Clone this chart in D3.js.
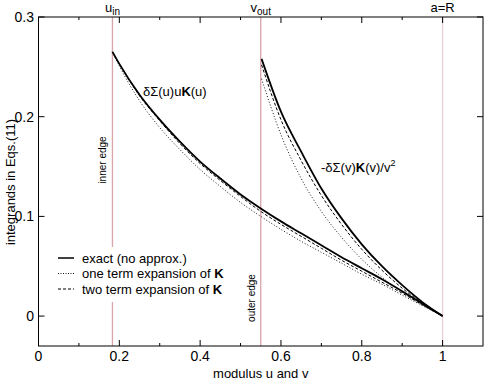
<!DOCTYPE html>
<html>
<head>
<meta charset="utf-8">
<script src="https://cdn.jsdelivr.net/npm/d3@7"></script>
<style>
  body { margin: 0; background: #fff; }
  svg { display: block; font-family: "Liberation Sans", Arial, sans-serif; }
</style>
</head>
<body>
<div id="chart"></div>
<script>
// 内边缘积分 (u)
const uGrid      = [0.183, 0.20, 0.25, 0.30, 0.35, 0.40, 0.45, 0.50, 0.55, 0.60, 0.65, 0.70, 0.75, 0.80, 0.85, 0.90, 0.95, 1.00]
const innerExact = [0.265, 0.253, 0.222, 0.197, 0.175, 0.155, 0.138, 0.122, 0.108, 0.095, 0.083, 0.071, 0.059, 0.048, 0.037, 0.025, 0.0125, 0]
const innerOne   = [0.265, 0.251, 0.216, 0.189, 0.167, 0.147, 0.130, 0.114, 0.100, 0.087, 0.075, 0.064, 0.053, 0.042, 0.032, 0.021, 0.0105, 0]
const innerTwo   = [0.265, 0.253, 0.221, 0.196, 0.173, 0.153, 0.136, 0.120, 0.105, 0.092, 0.080, 0.068, 0.056, 0.045, 0.034, 0.023, 0.0115, 0]
// 外边缘积分 (v)
const vGrid      = [0.552, 0.60, 0.65, 0.70, 0.75, 0.80, 0.85, 0.90, 0.95, 1.00]
const outerExact = [0.258, 0.205, 0.165, 0.128, 0.098, 0.072, 0.050, 0.031, 0.014, 0.000]
const outerOne   = [0.238, 0.182, 0.138, 0.105, 0.079, 0.057, 0.039, 0.024, 0.011, 0.000]
const outerTwo   = [0.252, 0.197, 0.156, 0.121, 0.092, 0.067, 0.046, 0.028, 0.013, 0.000]
// 竖线位置
const edges = [
  { x: 0.183, main: "u", sub: "in", color: "#d6a4a9" },
  { x: 0.55, main: "v", sub: "out", color: "#d6a4a9" },
  { x: 1.0, main: "a=R", sub: "", color: "#e8d2d5" }
]
const xTicks = [0, 0.2, 0.4, 0.6, 0.8, 1]
const yTicks = [0, 0.1, 0.2, 0.3]

const width = 485, height = 383
const m = { left: 38.5, right: 483, top: 17, bottom: 346 }

const svg = d3.select("#chart").append("svg").attr("width", width).attr("height", height)

const x = d3.scaleLinear().domain([0, 1.1]).range([m.left, m.right])
const y = d3.scaleLinear().domain([-0.03, 0.3]).range([m.bottom, m.top])

// 竖线
edges.forEach(e => {
  svg.append("line")
    .attr("x1", x(e.x)).attr("x2", x(e.x))
    .attr("y1", m.top).attr("y2", m.bottom)
    .attr("stroke", e.color).attr("stroke-width", 1.3)
  const t = svg.append("text").attr("x", x(e.x)).attr("y", 12)
    .attr("text-anchor", "middle").attr("font-size", 13)
  t.append("tspan").text(e.main)
  if (e.sub) t.append("tspan").attr("font-size", 10).attr("dy", 3).text(e.sub)
})
svg.append("text").attr("transform", `translate(${x(0.183) - 6},160) rotate(-90)`)
  .attr("text-anchor", "middle").attr("font-size", 10).text("inner edge")
svg.append("text").attr("transform", `translate(${x(0.55) - 6},298) rotate(-90)`)
  .attr("text-anchor", "middle").attr("font-size", 10).text("outer edge")

// 曲线
const line = d3.line().x(d => x(d[0])).y(d => y(d[1])).curve(d3.curveMonotoneX)
const series = [
  { xs: uGrid, ys: innerOne, dash: "1,2", w: 0.9 },
  { xs: vGrid, ys: outerOne, dash: "1,2", w: 0.9 },
  { xs: uGrid, ys: innerTwo, dash: "3,2", w: 1 },
  { xs: vGrid, ys: outerTwo, dash: "3,2", w: 1 },
  { xs: uGrid, ys: innerExact, dash: null, w: 1.8 },
  { xs: vGrid, ys: outerExact, dash: null, w: 1.8 }
]
series.forEach(s => {
  svg.append("path")
    .attr("d", line(s.xs.map((v, i) => [v, s.ys[i]])))
    .attr("fill", "none").attr("stroke", "#000")
    .attr("stroke-width", s.w)
    .attr("stroke-dasharray", s.dash)
})

// 曲线标签
const lab1 = svg.append("text").attr("x", 143).attr("y", 96).attr("font-size", 13)
lab1.append("tspan").text("δΣ(u)u")
lab1.append("tspan").attr("font-weight", "bold").text("K")
lab1.append("tspan").text("(u)")
const lab2 = svg.append("text").attr("x", 321).attr("y", 172).attr("font-size", 13)
lab2.append("tspan").text("-δΣ(v)")
lab2.append("tspan").attr("font-weight", "bold").text("K")
lab2.append("tspan").text("(v)/v")
lab2.append("tspan").attr("font-size", 9).attr("dy", -6).text("2")

// 图例
const legendItems = [
  { label: "exact (no approx.)", bold: "", dash: null, w: 1.5 },
  { label: "one term expansion of ", bold: "K", dash: "1,1.5", w: 0.9 },
  { label: "two term expansion of ", bold: "K", dash: "3,2", w: 1 }
]
svg.append("rect").attr("x", 52).attr("y", 247).attr("width", 190).attr("height", 55).attr("fill", "#fff")
legendItems.forEach((d, i) => {
  const cy = 258 + i * 15.5
  svg.append("line").attr("x1", 58).attr("x2", 74).attr("y1", cy).attr("y2", cy)
    .attr("stroke", "#000").attr("stroke-width", d.w).attr("stroke-dasharray", d.dash)
  const t = svg.append("text").attr("x", 82).attr("y", cy + 4.5).attr("font-size", 13)
  t.append("tspan").text(d.label)
  if (d.bold) t.append("tspan").attr("font-weight", "bold").text(d.bold)
})

// 坐标框与刻度
svg.append("rect").attr("x", m.left).attr("y", m.top)
  .attr("width", m.right - m.left).attr("height", m.bottom - m.top)
  .attr("fill", "none").attr("stroke", "#000").attr("stroke-width", 1)

const xMinor = d3.range(0.1, 1.1, 0.2)
const tickG = svg.append("g").attr("stroke", "#000").attr("stroke-width", 1)
xTicks.concat(xMinor).forEach(v => {
  const len = xTicks.includes(v) ? 6 : 3
  tickG.append("line").attr("x1", x(v)).attr("x2", x(v)).attr("y1", m.bottom).attr("y2", m.bottom - len)
  tickG.append("line").attr("x1", x(v)).attr("x2", x(v)).attr("y1", m.top).attr("y2", m.top + len)
})
yTicks.forEach(v => {
  tickG.append("line").attr("x1", m.left).attr("x2", m.left + 6).attr("y1", y(v)).attr("y2", y(v))
  tickG.append("line").attr("x1", m.right).attr("x2", m.right - 6).attr("y1", y(v)).attr("y2", y(v))
})

svg.append("g").selectAll("text").data(xTicks).join("text")
  .attr("x", d => x(d)).attr("y", 361).attr("text-anchor", "middle").attr("font-size", 14)
  .text(d => d3.format("")(d))
svg.append("g").selectAll("text").data(yTicks).join("text")
  .attr("x", 34).attr("y", d => y(d) + 5).attr("text-anchor", "end").attr("font-size", 14)
  .text(d => d3.format("")(d))

svg.append("text").attr("x", (m.left + m.right) / 2).attr("y", 378)
  .attr("text-anchor", "middle").attr("font-size", 13).text("modulus u and v")
svg.append("text").attr("transform", "translate(15,182) rotate(-90)")
  .attr("text-anchor", "middle").attr("font-size", 13).text("integrands in Eqs.(11)")
</script>
</body>
</html>
